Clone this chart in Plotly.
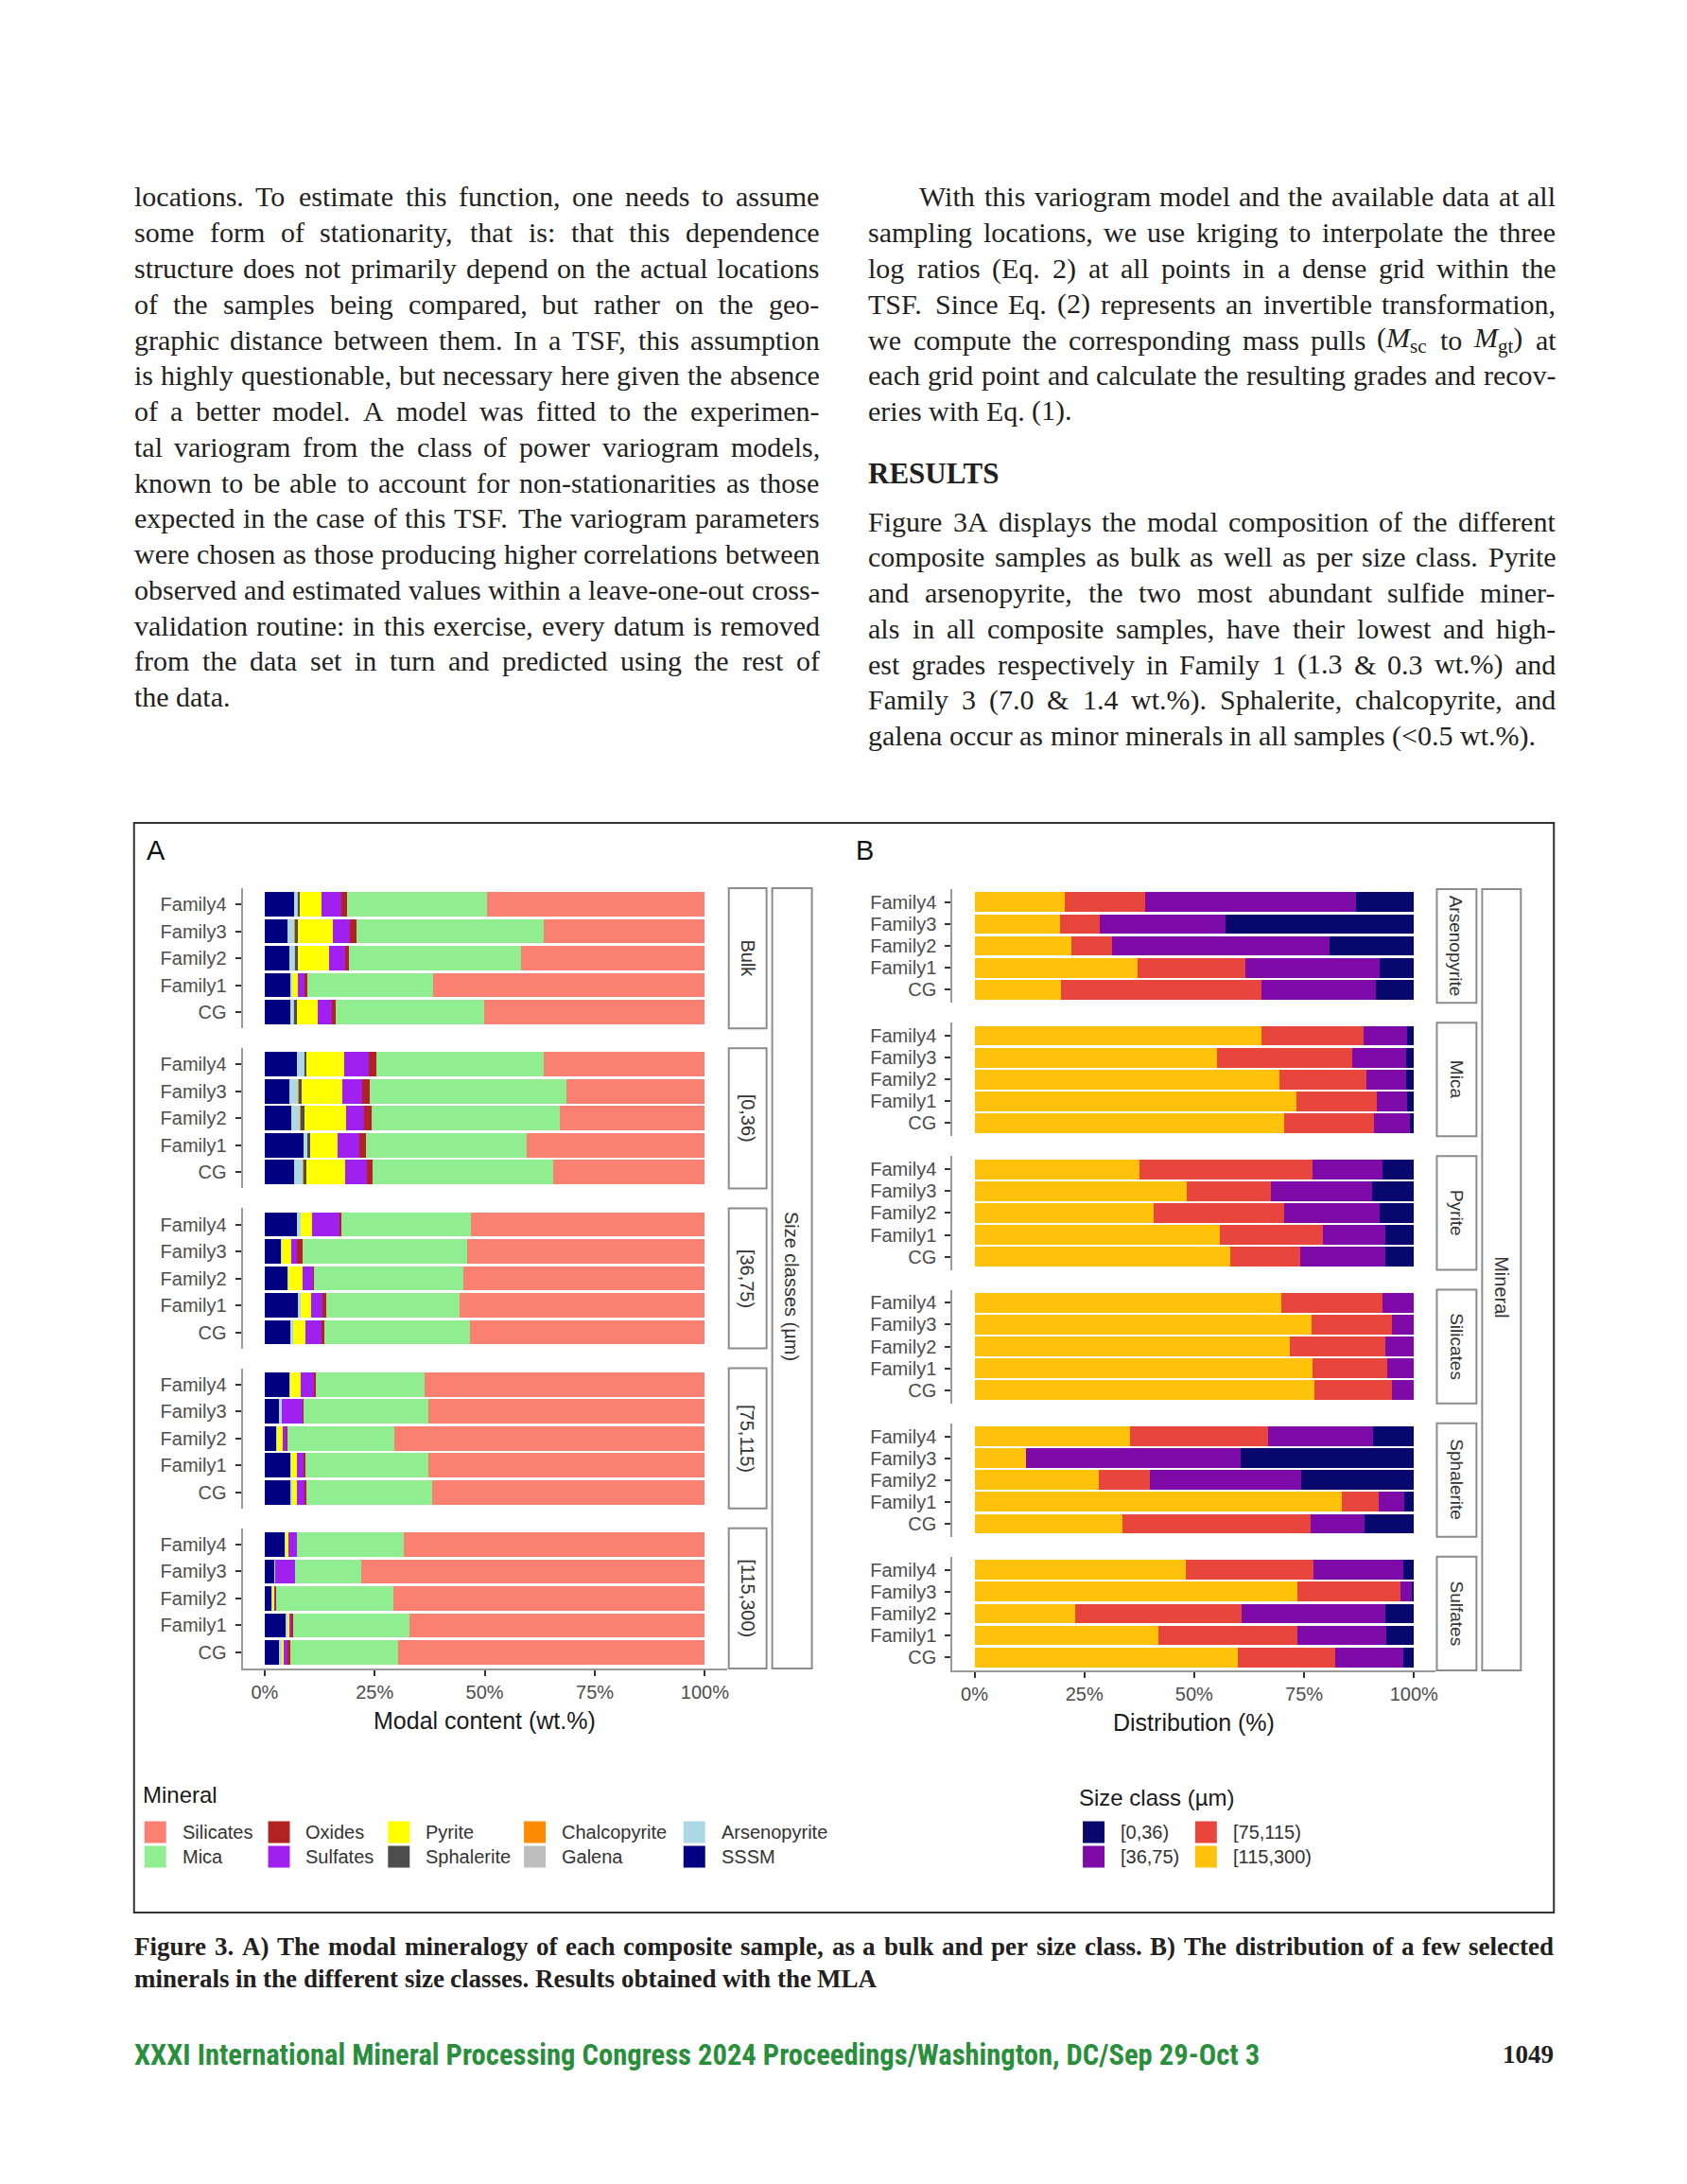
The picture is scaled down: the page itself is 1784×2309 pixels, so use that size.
import re
import plotly.graph_objects as go

W, H = 1784, 2309

# ---------------- DATA ----------------
samples = ["Family4", "Family3", "Family2", "Family1", "CG"]
size_classes_A = ["Bulk", "[0,36)", "[36,75)", "[75,115)", "[115,300)"]
minerals_B = ["Arsenopyrite", "Mica", "Pyrite", "Silicates", "Sphalerite", "Sulfates"]

# Panel A: modal content (wt.%), 5 facets x 5 samples (Family4..CG) per facet
SSSM = [6.6, 5.3, 5.6, 5.9, 5.8, 7.3, 5.6, 6.1, 8.9, 6.8, 7.4, 3.7, 5.1, 7.6, 5.9,
        5.7, 3.3, 2.6, 5.8, 5.9, 4.6, 2.1, 1.6, 4.7, 3.3]
Arsenopyrite = [0.8, 1.4, 1.2, 0.3, 0.8, 1.6, 1.9, 1.8, 0.8, 1.8, 0.8, 0.2, 0.4, 0.6, 0.5,
                0.2, 0.5, 0.2, 0.2, 0.3, 0.1, 0.3, 0.2, 0.4, 0.6]
Galena = [0.1, 0.1, 0.1, 0.0, 0.1, 0.1, 0.1, 0.1, 0.1, 0.1, 0.0, 0.0, 0.0, 0.0, 0.0,
          0.0, 0.0, 0.0, 0.0, 0.0, 0.0, 0.0, 0.0, 0.0, 0.0]
Chalcopyrite = [0.1, 0.1, 0.1, 0.0, 0.1, 0.1, 0.1, 0.1, 0.0, 0.1, 0.0, 0.0, 0.0, 0.0, 0.0,
                0.0, 0.0, 0.0, 0.0, 0.0, 0.0, 0.0, 0.0, 0.0, 0.0]
Sphalerite = [0.4, 0.6, 0.5, 0.0, 0.5, 0.5, 0.8, 0.9, 0.6, 0.7, 0.0, 0.0, 0.0, 0.0, 0.0,
              0.0, 0.0, 0.0, 0.0, 0.0, 0.0, 0.0, 0.0, 0.0, 0.0]
Pyrite = [4.9, 8.0, 7.2, 1.3, 4.7, 8.6, 9.2, 9.4, 6.2, 8.9, 2.5, 2.1, 3.1, 2.4, 2.9,
          2.2, 0.0, 1.3, 1.4, 1.1, 0.8, 0.0, 0.4, 0.5, 0.4]
Sulfates = [4.6, 4.0, 3.5, 1.5, 3.4, 5.6, 4.6, 4.1, 5.0, 4.8, 6.2, 1.4, 2.3, 2.5, 3.6,
            3.1, 4.8, 0.9, 1.5, 1.7, 1.9, 4.4, 0.3, 0.5, 0.9]
Oxides = [1.3, 1.5, 1.0, 0.7, 0.8, 1.6, 1.6, 1.7, 1.5, 1.4, 0.5, 1.2, 0.3, 0.8, 0.6,
          0.4, 0.3, 0.2, 0.4, 0.4, 0.0, 0.0, 0.1, 0.4, 0.6]
Mica = [31.8, 42.6, 39.1, 28.4, 33.8, 38.1, 44.7, 42.9, 36.5, 41.0, 29.5, 37.4, 34.0, 30.4, 33.1,
        24.7, 28.3, 24.3, 27.9, 28.6, 24.3, 15.2, 26.6, 26.4, 24.5]
Silicates = [49.6, 36.7, 41.7, 61.6, 50.2, 36.7, 31.6, 32.9, 40.5, 34.6, 53.1, 54.0, 54.7, 55.6, 53.3,
             63.7, 62.8, 70.5, 62.8, 61.8, 68.3, 78.0, 70.9, 67.1, 69.7]

# Panel B: distribution (%) over size classes, 6 mineral facets x 5 samples
c115_300 = [20.6, 19.4, 22.0, 37.2, 19.7, 65.3, 55.2, 69.3, 73.2, 70.4, 37.6, 48.2, 40.7, 55.8, 58.2,
            69.9, 76.8, 71.7, 77.1, 77.4, 35.3, 11.8, 28.3, 83.5, 33.6, 48.1, 73.5, 23.0, 41.9, 59.9]
c75_115 = [18.3, 9.2, 9.4, 24.4, 45.5, 23.2, 30.8, 19.9, 18.4, 20.6, 39.3, 19.3, 29.8, 23.6, 16.0,
           23.0, 18.1, 21.9, 17.0, 17.5, 31.6, 0.0, 11.6, 8.5, 43.0, 29.0, 23.4, 37.8, 31.6, 22.3]
c36_75 = [47.9, 28.6, 49.5, 30.6, 26.2, 9.9, 12.3, 9.1, 6.8, 8.1, 16.0, 22.9, 21.7, 14.0, 19.2,
          7.1, 5.1, 6.4, 6.0, 5.1, 23.9, 48.7, 34.4, 5.8, 12.1, 20.5, 2.6, 32.7, 20.3, 15.3]
c0_36 = [13.2, 42.8, 19.1, 7.8, 8.6, 1.6, 1.7, 1.7, 1.6, 0.9, 7.1, 9.6, 7.8, 6.6, 6.6,
         0.0, 0.0, 0.0, 0.0, 0.0, 9.2, 39.5, 25.7, 2.2, 11.3, 2.4, 0.5, 6.5, 6.2, 2.5]

x_ticks = [0, 25, 50, 75, 100]
x_tick_labels = ["0%", "25%", "50%", "75%", "100%"]

# stacking order (left -> right) and colours
stack_A = [("SSSM", SSSM, "#000080"), ("Arsenopyrite", Arsenopyrite, "#ADD8E6"),
           ("Galena", Galena, "#BEBEBE"), ("Chalcopyrite", Chalcopyrite, "#FF8C00"),
           ("Sphalerite", Sphalerite, "#4D4D4D"), ("Pyrite", Pyrite, "#FFFF00"),
           ("Sulfates", Sulfates, "#A020F0"), ("Oxides", Oxides, "#B22222"),
           ("Mica", Mica, "#90EE90"), ("Silicates", Silicates, "#FA8072")]
stack_B = [("[115,300)", c115_300, "#FFC20A"), ("[75,115)", c75_115, "#E8453C"),
           ("[36,75)", c36_75, "#7E0AA8"), ("[0,36)", c0_36, "#07076E")]
mineral_colors = {n: c for n, _, c in stack_A}
size_colors = {n: c for n, _, c in stack_B}
legend_A_cols = [["Silicates", "Mica"], ["Oxides", "Sulfates"], ["Pyrite", "Sphalerite"],
                 ["Chalcopyrite", "Galena"], ["Arsenopyrite", "SSSM"]]
legend_B_cols = [["[0,36)", "[36,75)"], ["[75,115)", "[115,300)"]]

# ---------------- PAGE TEXT ----------------
left_lines = [
    "locations. To estimate this function, one needs to assume",
    "some form of stationarity, that is: that this dependence",
    "structure does not primarily depend on the actual locations",
    "of the samples being compared, but rather on the geo-",
    "graphic distance between them. In a TSF, this assumption",
    "is highly questionable, but necessary here given the absence",
    "of a better model. A model was fitted to the experimen-",
    "tal variogram from the class of power variogram models,",
    "known to be able to account for non-stationarities as those",
    "expected in the case of this TSF. The variogram parameters",
    "were chosen as those producing higher correlations between",
    "observed and estimated values within a leave-one-out cross-",
    "validation routine: in this exercise, every datum is removed",
    "from the data set in turn and predicted using the rest of",
    "the data.",
]
right_p1 = [
    "With this variogram model and the available data at all",
    "sampling locations, we use kriging to interpolate the three",
    "log ratios (Eq. 2) at all points in a dense grid within the",
    "TSF. Since Eq. (2) represents an invertible transformation,",
    "we compute the corresponding mass pulls (<i>M</i><sub>sc</sub> to <i>M</i><sub>gt</sub>) at",
    "each grid point and calculate the resulting grades and recov-",
    "eries with Eq. (1).",
]
right_p2 = [
    "Figure 3A displays the modal composition of the different",
    "composite samples as bulk as well as per size class. Pyrite",
    "and arsenopyrite, the two most abundant sulfide miner-",
    "als in all composite samples, have their lowest and high-",
    "est grades respectively in Family 1 (1.3 & 0.3 wt.%) and",
    "Family 3 (7.0 & 1.4 wt.%). Sphalerite, chalcopyrite, and",
    "galena occur as minor minerals in all samples (<0.5 wt.%).",
]
caption_lines = [
    "Figure 3. A) The modal mineralogy of each composite sample, as a bulk and per size class. B) The distribution of a few selected",
    "minerals in the different size classes. Results obtained with the MLA",
]
footer_text = "XXXI International Mineral Processing Congress 2024 Proceedings/Washington, DC/Sep 29-Oct 3"
page_number = "1049"

# ---------------- helpers ----------------
def px(x):
    return x / W


def py(y):
    return 1 - y / H


TIMES = {' ': 250, 'a': 444, 'b': 500, 'c': 444, 'd': 500, 'e': 444, 'f': 333, 'g': 500, 'h': 500,
         'i': 278, 'j': 278, 'k': 500, 'l': 278, 'm': 778, 'n': 500, 'o': 500, 'p': 500, 'q': 500,
         'r': 333, 's': 389, 't': 278, 'u': 500, 'v': 500, 'w': 722, 'x': 500, 'y': 500, 'z': 444,
         'A': 722, 'B': 667, 'C': 667, 'D': 722, 'E': 611, 'F': 556, 'G': 722, 'H': 722, 'I': 333,
         'J': 389, 'K': 722, 'L': 611, 'M': 889, 'N': 722, 'O': 722, 'P': 556, 'Q': 722, 'R': 667,
         'S': 556, 'T': 611, 'U': 722, 'V': 722, 'W': 944, 'X': 722, 'Y': 722, 'Z': 611,
         '.': 250, ',': 250, ':': 278, ';': 278, '-': 333, '(': 333, ')': 333, '&': 778, '%': 833,
         '<': 564, '>': 564}
TIMES_B = {' ': 250, 'a': 500, 'b': 556, 'c': 444, 'd': 556, 'e': 444, 'f': 333, 'g': 500, 'h': 556,
           'i': 278, 'j': 333, 'k': 556, 'l': 278, 'm': 833, 'n': 556, 'o': 500, 'p': 556, 'q': 556,
           'r': 444, 's': 389, 't': 333, 'u': 556, 'v': 500, 'w': 722, 'x': 500, 'y': 500, 'z': 444,
           'A': 722, 'B': 667, 'C': 722, 'D': 722, 'E': 667, 'F': 611, 'G': 778, 'H': 778, 'I': 389,
           'J': 500, 'K': 778, 'L': 667, 'M': 944, 'N': 722, 'O': 778, 'P': 611, 'Q': 778, 'R': 722,
           'S': 556, 'T': 667, 'U': 722, 'V': 722, 'W': 1000, 'X': 722, 'Y': 722, 'Z': 667,
           '.': 250, ',': 250, ':': 333, ';': 333, '-': 333, '(': 333, ')': 333, '&': 833, '%': 1000}


def units(s, met):
    total = 0.0
    for part in re.split(r'(<sub>.*?</sub>)', s):
        scale = 1.0
        if part.startswith('<sub>'):
            part = part[5:-6]
            scale = 0.7
        part = re.sub(r'</?i>', '', part)
        total += scale * sum(met.get(ch, 500) for ch in part)
    return total


def esc(w):
    if '<i>' in w or '<sub>' in w:
        return w
    return w.replace('&', '&amp;').replace('<', '&lt;')


annotations = []
shapes = []

SERIF = "Liberation Serif, Times New Roman, serif"
SANS = "Liberation Sans, Arial, sans-serif"
TXT = "#231F20"


def place_line(line, x0, x1, yc, size, met, justify, bold=False, color=TXT):
    words = line.split(' ')
    widths = [units(w, met) * size / 1000 for w in words]
    if justify and len(words) > 1:
        gap = (x1 - x0 - sum(widths)) / (len(words) - 1)
    else:
        gap = met[' '] * size / 1000
    x = x0
    for w, wd in zip(words, widths):
        t = esc(w)
        if bold:
            t = "<b>" + t + "</b>"
        annotations.append(dict(x=px(x), y=py(yc), xref="paper", yref="paper", xanchor="left",
                                yanchor="middle", text=t, showarrow=False, borderpad=0,
                                font=dict(family=SERIF, size=size, color=color)))
        x += wd + gap


# body font size fitted to column width
LX0, LX1 = 141, 867
RX0, RX1 = 919, 1647
INDENT = 54
fits = [(LX1 - LX0) * 1000 / units(l, TIMES) for l in left_lines[:-1]]
fits += [(RX1 - RX0) * 1000 / units(l, TIMES) for l in right_p1[1:-1] + right_p2]
fits += [(RX1 - RX0 - INDENT) * 1000 / units(right_p1[0], TIMES)]
FS = min(30.0, min(fits) * 0.995)
LINE = 37.75

for i, l in enumerate(left_lines):
    place_line(l, LX0, LX1, 208 + i * LINE, FS, TIMES, justify=(i < len(left_lines) - 1))
for i, l in enumerate(right_p1):
    x0 = RX0 + (INDENT if i == 0 else 0)
    place_line(l, x0, RX1, 208 + i * LINE, FS, TIMES, justify=(i < len(right_p1) - 1))
annotations.append(dict(x=px(RX0), y=py(501), xref="paper", yref="paper", xanchor="left",
                        yanchor="middle", text="<b>RESULTS</b>", showarrow=False, borderpad=0,
                        font=dict(family=SERIF, size=31, color=TXT)))
for i, l in enumerate(right_p2):
    place_line(l, RX0, RX1, 551 + i * LINE, FS, TIMES, justify=(i < len(right_p2) - 1))

# caption
CX0, CX1 = 141, 1645
FSC = min(27.0, (CX1 - CX0) * 1000 / units(caption_lines[0], TIMES_B) * 0.995)
place_line(caption_lines[0], CX0, CX1, 2058, FSC, TIMES_B, justify=True, bold=True)
place_line(caption_lines[1], CX0, CX1, 2092, FSC, TIMES_B, justify=False, bold=True)

# footer
annotations.append(dict(x=px(140), y=py(2172), xref="paper", yref="paper", xanchor="left",
                        yanchor="middle", text="<b>" + footer_text + "</b>", showarrow=False,
                        font=dict(family="Liberation Sans Narrow, Roboto Condensed, Liberation Sans, sans-serif",
                                  size=30.6, color="#2A8F3C")))
annotations.append(dict(x=px(1648), y=py(2172), xref="paper", yref="paper", xanchor="right",
                        yanchor="middle", text="<b>" + page_number + "</b>", showarrow=False,
                        font=dict(family=SERIF, size=27, color=TXT)))

# ---------------- CHART ----------------
fig = go.Figure()
lay = {}

A_TOP, A_BOT, GAP = 939, 1764, 21
B_TOP, B_BOT = 940, 1766
A_X0, A_X1 = 257, 770
B_X0, B_X1 = 1009, 1521
nA, nB = len(size_classes_A), len(minerals_B)
A_H = (A_BOT - A_TOP - (nA - 1) * GAP) / nA
B_H = (B_BOT - B_TOP - (nB - 1) * GAP) / nB

AXLINE = "#9A9A9A"
TICKC = "#333333"
TICKF = dict(family=SANS, size=20, color="#4D4D4D")
STRIPF = dict(family=SANS, size=20, color="#333333")


def add_facet(idx, x0, x1, top, h, bottom_facet, facet_label, sx0, sx1, strip_size):
    xa = "xaxis" if idx == 1 else f"xaxis{idx}"
    ya = "yaxis" if idx == 1 else f"yaxis{idx}"
    xr = "x" if idx == 1 else f"x{idx}"
    yr = "y" if idx == 1 else f"y{idx}"
    lay[xa] = dict(domain=[px(x0), px(x1)], range=[-5, 105], anchor=yr, showgrid=False,
                   zeroline=False, fixedrange=True,
                   showline=bottom_facet, linecolor=AXLINE, linewidth=2,
                   ticks="outside" if bottom_facet else "", ticklen=6, tickwidth=2, tickcolor=TICKC,
                   showticklabels=bottom_facet, tickmode="array", tickvals=x_ticks,
                   ticktext=x_tick_labels, tickfont=TICKF)
    lay[ya] = dict(domain=[py(top + h), py(top)], anchor=xr, type="category",
                   categoryorder="array", categoryarray=samples[::-1], range=[-0.6, 4.6],
                   tickmode="array", tickvals=samples, ticktext=samples,
                   showgrid=False, zeroline=False, showline=True, linecolor=AXLINE, linewidth=2,
                   ticks="outside", ticklen=6, tickwidth=2, tickcolor=TICKC, tickfont=TICKF,
                   ticklabelstandoff=5, fixedrange=True)
    shapes.append(dict(type="rect", xref="paper", yref="paper", x0=px(sx0), x1=px(sx1),
                       y0=py(top + h), y1=py(top), fillcolor="white",
                       line=dict(color="#8C8C8C", width=2)))
    annotations.append(dict(x=px((sx0 + sx1) / 2), y=py(top + h / 2), xref="paper", yref="paper",
                            xanchor="center", yanchor="middle", text=facet_label, textangle=90,
                            showarrow=False, font=dict(STRIPF, size=strip_size)))
    return xr, yr


for k, sc in enumerate(size_classes_A):
    top = A_TOP + k * (A_H + GAP)
    xr, yr = add_facet(k + 1, A_X0, A_X1, top, A_H, k == nA - 1, sc, 772, 812, 20)
    for name, vals, col in stack_A:
        fig.add_trace(go.Bar(y=samples, x=vals[k * 5:(k + 1) * 5], orientation="h", name=name,
                             marker=dict(color=col, line=dict(width=0)), xaxis=xr, yaxis=yr,
                             showlegend=False))

for j, mn in enumerate(minerals_B):
    top = B_TOP + j * (B_H + GAP)
    xr, yr = add_facet(nA + j + 1, B_X0, B_X1, top, B_H, j == nB - 1, mn, 1522, 1564, 19)
    for name, vals, col in stack_B:
        fig.add_trace(go.Bar(y=samples, x=vals[j * 5:(j + 1) * 5], orientation="h", name=name,
                             marker=dict(color=col, line=dict(width=0)), xaxis=xr, yaxis=yr,
                             showlegend=False))

# outer strips
for (sx0, sx1, t0, t1, label) in [(818, 860, A_TOP, A_BOT, "Size classes (µm)"),
                                  (1570, 1611, B_TOP, B_BOT, "Mineral")]:
    shapes.append(dict(type="rect", xref="paper", yref="paper", x0=px(sx0), x1=px(sx1),
                       y0=py(t1), y1=py(t0), fillcolor="white", line=dict(color="#8C8C8C", width=2)))
    annotations.append(dict(x=px((sx0 + sx1) / 2), y=py((t0 + t1) / 2 + 8), xref="paper", yref="paper",
                            xanchor="center", yanchor="middle", text=label, textangle=90,
                            showarrow=False, font=STRIPF))

# axis titles and panel letters
annotations.append(dict(x=px((A_X0 + A_X1) / 2), y=py(1819), xref="paper", yref="paper",
                        xanchor="center", yanchor="middle", text="Modal content (wt.%)",
                        showarrow=False, font=dict(family=SANS, size=25, color="#1A1A1A")))
annotations.append(dict(x=px((B_X0 + B_X1) / 2), y=py(1821), xref="paper", yref="paper",
                        xanchor="center", yanchor="middle", text="Distribution (%)",
                        showarrow=False, font=dict(family=SANS, size=25, color="#1A1A1A")))
for lab, lx in [("A", 153), ("B", 905)]:
    annotations.append(dict(x=px(lx), y=py(899), xref="paper", yref="paper", xanchor="left",
                            yanchor="middle", text=lab, showarrow=False,
                            font=dict(family=SANS, size=29, color="#111111")))


# legends (drawn as swatches + labels)
def draw_legend(title, tx, ty, cols, col_x, colors):
    annotations.append(dict(x=px(tx), y=py(ty), xref="paper", yref="paper", xanchor="left",
                            yanchor="middle", text=title, showarrow=False,
                            font=dict(family=SANS, size=24, color="#1A1A1A")))
    rows_y = [1937, 1963]
    for cx, items in zip(col_x, cols):
        for ry, name in zip(rows_y, items):
            shapes.append(dict(type="rect", xref="paper", yref="paper", x0=px(cx), x1=px(cx + 23),
                               y0=py(ry + 11.5), y1=py(ry - 11.5), fillcolor=colors[name],
                               line=dict(width=0)))
            annotations.append(dict(x=px(cx + 38), y=py(ry), xref="paper", yref="paper",
                                    xanchor="left", yanchor="middle", text=name, showarrow=False,
                                    font=dict(family=SANS, size=20, color="#333333")))


draw_legend("Mineral", 149, 1897, legend_A_cols, [153, 284, 411, 555, 724], mineral_colors)
draw_legend("Size class (µm)", 1141, 1900, legend_B_cols, [1147, 1266], size_colors)

# figure frame
shapes.append(dict(type="rect", xref="paper", yref="paper", x0=px(142), x1=px(1646),
                   y0=py(2022), y1=py(870), line=dict(color="#333333", width=2)))

fig.update_layout(width=W, height=H, margin=dict(l=0, r=0, t=0, b=0),
                  paper_bgcolor="white", plot_bgcolor="white",
                  barmode="stack", barnorm="percent", bargap=0.1,
                  showlegend=False, annotations=annotations, shapes=shapes, **lay)

fig.write_html("out.html", config={"displayModeBar": False},
               post_script="document.body.style.margin='0';document.body.style.overflow='hidden';")
